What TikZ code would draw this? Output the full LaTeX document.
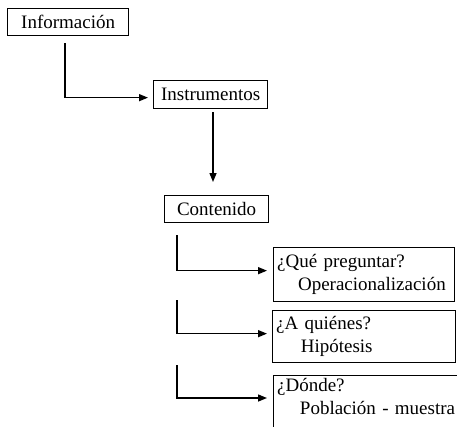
\documentclass[tikz,border=0pt]{standalone}
\usepackage{fontspec}
\setmainfont{Liberation Serif}
\usetikzlibrary{arrows.meta}
\begin{document}
\begin{tikzpicture}[x=1pt,y=-1pt,
  box/.style={draw=black,line width=1.3pt,inner sep=0pt,font=\fontsize{19}{23}\selectfont},
  qbox/.style={draw=black,line width=1.3pt,inner xsep=3.5pt,inner ysep=4pt,anchor=north west,align=left,font=\fontsize{19}{23}\selectfont},
  conn/.style={line width=1.4pt,-{Triangle[length=9pt,width=7pt]}}]
\useasboundingbox (0,0) rectangle (457,426);
\clip (0,0) rectangle (457,426);
\node[box,anchor=north west,minimum width=121pt,minimum height=27pt] (info) at (7,8) {Información};
\node[box,anchor=north west,minimum width=114pt,minimum height=28pt] (instr) at (153,80) {Instrumentos};
\node[box,anchor=north west,minimum width=104pt,minimum height=27pt] (cont) at (164,195) {Contenido};
\node[qbox,minimum width=181pt,minimum height=54pt,text width=174pt] (q1) at (273,247)
  {¿Qué preguntar?\\\hspace*{1.1em}Operacionalización};
\node[qbox,minimum width=183pt,minimum height=52pt,text width=176pt] (q2) at (272,310)
  {¿A quiénes?\\\hspace*{1.3em}Hipótesis};
\node[qbox,minimum width=200pt,text width=193pt,inner ysep=3pt] (q3) at (273,375)
  {¿Dónde?\\\hspace*{1.2em}Población - muestra\rule[-14pt]{0pt}{0pt}};
\coordinate (k0) at (65,43);
\coordinate (k1) at (213,112);
\coordinate (c1) at (177,235);
\coordinate (c2) at (177,300);
\coordinate (c3) at (177,365);
\draw[conn,shorten >=5pt] (k0) |- ([yshift=-3pt]instr.west);
\draw[conn,shorten >=13pt] (k1) -- (k1 |- cont.north);
\draw[conn,shorten >=6pt] (c1) |- ([yshift=4pt]q1.west);
\draw[conn,shorten >=5pt] (c2) |- ([yshift=3pt]q2.west);
\draw[conn,shorten >=6pt] (c3) |- ([yshift=-23pt]q3.north west);
\end{tikzpicture}
\end{document}
